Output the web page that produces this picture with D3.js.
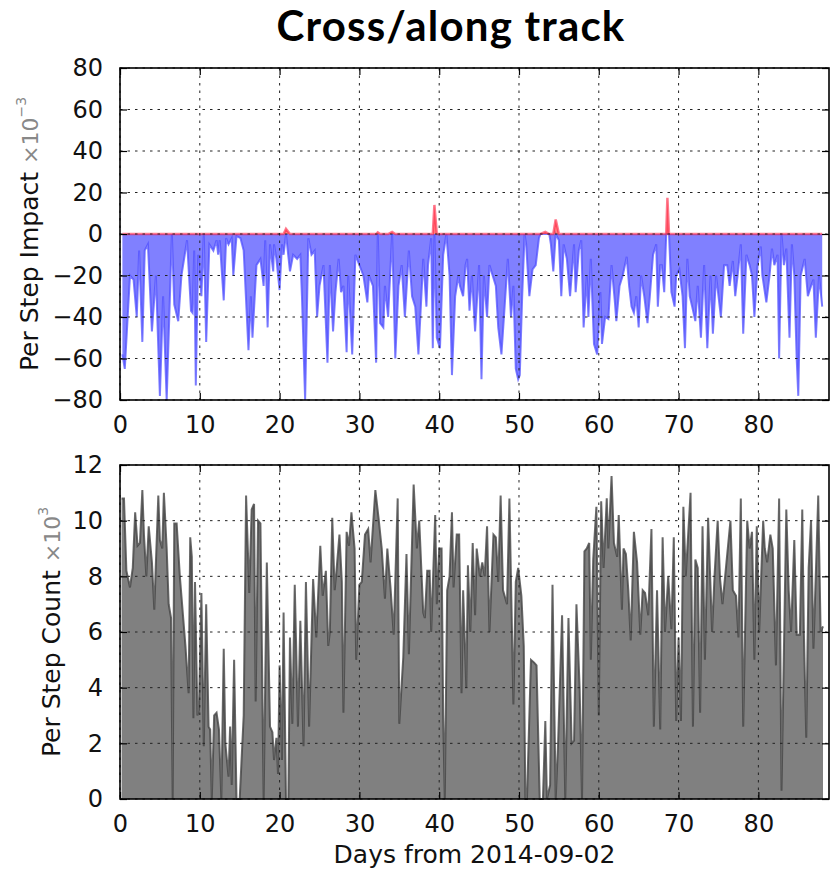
<!DOCTYPE html>
<html>
<head>
<meta charset="utf-8">
<script src="https://cdn.jsdelivr.net/npm/d3@7"></script>
<style>
  body { margin: 0; background: #fff; }
  text { font-family: "DejaVu Sans", sans-serif; }
</style>
</head>
<body>
<div id="chart"></div>
<script>
// Data
var impactDays = [0.3, 0.6, 1.25, 1.7, 2.1, 2.4, 2.8, 3.1, 3.5, 4.0, 4.5, 5.0, 5.4, 5.85, 6.5, 6.8, 7.3, 7.7, 8.4, 8.9,
  9.1, 9.3, 9.5, 9.8, 10.2, 10.5, 10.8, 11.2, 11.7, 12.1, 12.3, 12.5, 13.0, 13.3, 13.6, 14.0, 14.2, 14.6, 15.1, 15.5,
  16.1, 16.4, 16.6, 17.1, 17.6, 18.0, 18.2, 18.5, 18.8, 19.2, 19.3, 19.6, 20.0, 20.3, 20.5, 20.8, 21.3, 21.7, 22.2, 22.6,
  22.8, 23.2, 23.6, 24.0, 24.4, 24.7, 25.0, 25.5, 26.0, 26.3, 26.7, 27.0, 27.4, 27.7, 28.0, 28.4, 28.6, 29.1, 29.5, 30.0,
  30.5, 31.0, 31.2, 31.7, 32.1, 32.3, 32.6, 33.0, 33.2, 33.6, 34.1, 34.5, 34.9, 35.3, 35.7, 36.2, 36.6, 37.0, 37.4, 38.0,
  38.4, 38.6, 39.0, 39.2, 39.4, 39.7, 40.1, 40.5, 40.9, 41.3, 41.6, 42.0, 42.4, 42.6, 43.0, 43.3, 43.5, 43.8, 44.1, 44.5,
  45.0, 45.3, 45.6, 46.0, 46.3, 46.7, 47.1, 47.4, 47.8, 48.2, 48.6, 49.0, 49.3, 49.6, 49.9, 50.1, 50.4, 50.7, 50.9, 51.1,
  51.3, 51.7, 52.1, 52.5, 52.7, 53.3, 53.8, 54.0, 54.3, 54.6, 55.0, 55.3, 55.6, 56.0, 56.4, 56.9, 57.1, 57.5, 57.8, 58.1,
  58.5, 58.7, 59.0, 59.4, 59.8, 60.2, 60.4, 60.8, 61.2, 61.6, 62.0, 62.2, 62.6, 63.0, 63.5, 63.8, 64.1, 64.4, 64.7, 65.0,
  65.3, 65.7, 66.1, 66.4, 66.8, 67.2, 67.4, 67.7, 67.9, 68.2, 68.45, 68.6, 68.8, 69.1, 69.5, 69.7, 70.1, 70.5, 70.8, 71.1,
  71.4, 71.7, 72.1, 72.4, 72.8, 73.2, 73.6, 74.0, 74.3, 74.7, 75.0, 75.3, 75.7, 76.1, 76.4, 76.8, 77.1, 77.4, 77.8, 78.1,
  78.5, 78.9, 79.2, 79.5, 79.9, 80.3, 80.5, 81.0, 81.4, 81.7, 82.0, 82.4, 82.6, 82.9, 83.2, 83.5, 83.9, 84.2, 84.5, 84.8,
  85.0, 85.3, 85.8, 86.2, 86.6, 86.9, 87.2, 87.6, 88.0];
var impactValues = [-58, -65, -20, -22, -40, -8, -52, -8, -5, -47, -20, -78, -30, -80, 0, -34, -42, -20, -3, -37,
  -38, -8, -73, -10, -30, 0, -52, -5, -8, -3, -10, -3, -32, -2, -5, -2, -20, -1, -2, -8,
  -56, -30, -50, -15, -12, -25, -3, -45, -5, -18, -5, -12, -27, -5, -10, 2.5, -18, -10, -12, -10,
  -30, -80, -2, -10, -8, -40, -25, -15, -62, -15, -47, -28, -12, -28, -25, -57, -20, -58, -10, -15,
  -20, -33, -20, -25, -62, 0.8, -43, -45, -25, -40, 1, -60, -25, -15, -40, -8, -30, -35, -58, -12,
  -35, -15, -2, -55, 14, -50, -55, -10, 0, -20, -68, -30, -20, -25, -30, -15, -12, -37, -20, -47,
  -15, -70, -20, -40, -15, -20, -25, -45, -58, -35, -12, -40, -25, -65, -70, -68, -30, 0, -5, -18,
  -30, -17, -15, -2, 0, 1, 0, -5, -18, 7, -3, -30, -5, -12, -30, -5, -28, -8, -3, -45,
  -20, -40, -12, -53, -58, -28, -53, -40, -41, -15, -32, -42, -25, -20, -11, -25, -35, -38, -30, -45,
  -20, -30, -43, -30, -10, -5, -35, -15, -15, -28, 0, 17.5, 0, -28, -35, -20, -17, -30, -55, -12,
  -30, -35, -42, -25, -50, -15, -55, -20, -48, -20, -30, -40, -15, -15, -25, -13, -30, -20, -5, -48,
  -10, -15, -20, -40, -15, -6, -20, -33, -20, -7, -15, -10, -60, 0, -15, -7, -50, -5, -20, -60,
  -78, -20, -12, -30, -25, -22, -50, -20, -35];

var countDays = [0.2, 0.5, 0.8, 1.25, 1.6, 1.9, 2.2, 2.5, 2.8, 3.0, 3.3, 3.6, 4.0, 4.3, 4.5, 4.8, 5.0, 5.3, 5.5, 5.85,
  6.1, 6.4, 6.6, 6.8, 7.1, 7.5, 8.2, 8.6, 8.8, 9.0, 9.2, 9.4, 9.7, 9.9, 10.2, 10.5, 10.8, 11.1, 11.3, 11.5,
  11.8, 12.1, 12.4, 12.7, 13.0, 13.2, 13.6, 13.8, 14.0, 14.3, 14.6, 15.0, 15.5, 15.8, 16.2, 16.5, 16.8, 17.0, 17.3, 17.6,
  18.0, 18.4, 18.8, 19.1, 19.3, 19.6, 19.8, 20.0, 20.3, 20.5, 20.8, 21.1, 21.3, 21.6, 21.9, 22.3, 22.6, 23.0, 23.3, 23.7,
  24.2, 24.6, 25.1, 25.4, 25.8, 26.1, 26.3, 26.6, 26.9, 27.1, 27.5, 27.8, 28.0, 28.4, 28.7, 29.0, 29.4, 29.6, 30.0, 30.3,
  30.7, 31.1, 31.4, 32.0, 32.4, 32.8, 33.2, 33.5, 33.9, 34.3, 34.8, 35.0, 35.5, 35.9, 36.2, 36.8, 37.2, 37.5, 37.8, 38.0,
  38.2, 38.5, 38.8, 39.0, 39.5, 39.7, 40.0, 40.3, 40.5, 40.7, 41.0, 41.3, 41.6, 41.8, 42.2, 42.5, 42.8, 43.0, 43.4, 43.6,
  43.9, 44.2, 44.5, 44.7, 45.1, 45.4, 45.7, 46.0, 46.3, 46.8, 47.1, 47.4, 47.7, 48.0, 48.5, 48.8, 49.3, 49.6, 49.9, 50.3,
  50.6, 50.8, 51.0, 51.5, 51.9, 52.2, 52.6, 53.0, 53.3, 53.5, 53.9, 54.2, 54.6, 54.9, 55.4, 55.8, 56.2, 56.6, 56.9, 57.2,
  57.6, 57.9, 58.2, 58.5, 58.8, 59.0, 59.3, 59.7, 60.0, 60.3, 60.6, 61.0, 61.2, 61.6, 61.9, 62.3, 62.5, 62.9, 63.1, 63.4,
  63.7, 64.0, 64.4, 64.8, 65.2, 65.5, 65.8, 66.2, 66.6, 66.9, 67.3, 67.7, 68.0, 68.3, 68.7, 69.1, 69.4, 69.7, 70.0, 70.3,
  70.6, 70.9, 71.5, 71.8, 72.1, 72.4, 72.7, 73.0, 73.3, 73.7, 74.2, 74.5, 74.9, 75.2, 75.5, 76.0, 76.5, 76.8, 77.2, 77.5,
  77.8, 78.1, 78.6, 78.9, 79.2, 79.5, 79.8, 80.1, 80.6, 80.8, 81.1, 81.5, 81.8, 82.2, 82.6, 82.9, 83.5, 83.8, 84.1, 84.5,
  84.8, 85.2, 85.5, 85.7, 86.0, 86.3, 86.6, 86.9, 87.3, 87.5, 87.8, 88.1];
var countValues = [10.8, 10.8, 8.2, 7.6, 8.3, 10.3, 9.1, 9.2, 11.1, 9.5, 8.0, 9.8, 8.5, 6.8, 8.5, 10.9, 9.3, 9.0, 11.0, 9.0,
  7.0, 6.5, 0, 9.9, 9.9, 8.0, 5.5, 3.8, 9.4, 8.7, 2.9, 7.8, 3.0, 3.2, 7.4, 1.9, 7.0, 2.6, 2.5, 0,
  3.0, 3.1, 2.5, 0, 5.4, 2.0, 0.8, 2.6, 0.5, 5.0, 0, 0, 3.0, 10.9, 7.4, 10.4, 10.6, 3.5, 10.0, 9.9,
  0, 8.5, 2.6, 2.4, 1.4, 2.2, 0.9, 4.8, 1.4, 6.7, 0, 0, 5.8, 2.7, 7.7, 2.6, 6.4, 1.9, 7.8, 2.6,
  7.9, 5.8, 9.1, 7.3, 8.2, 5.5, 6.0, 10.1, 7.5, 8.1, 9.5, 7.8, 3.1, 9.6, 9.1, 10.3, 9.0, 5.0, 7.7, 7.8,
  9.5, 9.7, 8.5, 11.1, 10.1, 9.0, 7.2, 9.0, 7.6, 5.9, 10.8, 2.7, 5.1, 8.8, 5.2, 11.3, 9.0, 10.0, 8.0, 6.7,
  6.5, 8.2, 8.2, 6.0, 10.2, 7.0, 9.0, 9.0, 3.0, 0, 7.5, 8.0, 10.3, 7.6, 9.5, 9.5, 3.8, 7.5, 4.0, 8.4,
  6.0, 9.2, 6.6, 9.0, 8.0, 8.5, 8.0, 9.8, 6.0, 9.5, 9.4, 7.8, 10.9, 7.5, 7.0, 10.8, 3.4, 7.8, 8.3, 7.3,
  5.5, 0, 0, 5.0, 4.9, 4.8, 0, 0, 2.8, 0, 0.5, 7.7, 0, 2.0, 6.6, 0, 6.5, 2.0, 2.1, 7.0,
  4.0, 0, 8.9, 9.0, 9.2, 5.0, 8.6, 10.5, 3.0, 10.7, 8.3, 10.8, 9.0, 11.6, 9.2, 8.7, 10.2, 6.8, 9.0, 8.8,
  7.5, 5.7, 9.6, 8.5, 5.9, 7.5, 7.4, 6.6, 9.7, 2.6, 7.5, 2.5, 9.4, 6.0, 8.0, 6.1, 9.4, 2.8, 5.8, 2.8,
  10.5, 8.0, 11.0, 2.6, 8.6, 8.3, 3.1, 9.8, 5.0, 10.1, 6.0, 8.0, 10.0, 7.9, 7.0, 8.5, 10.0, 7.5, 7.3, 5.8,
  10.8, 2.6, 10.0, 9.0, 9.6, 5.0, 9.8, 6.0, 10.0, 9.0, 8.5, 9.5, 9.0, 4.8, 10.8, 0.3, 10.4, 7.5, 6.0, 9.3,
  5.9, 5.9, 10.4, 6.0, 2.2, 8.3, 10.0, 5.4, 9.0, 10.9, 6.0, 6.2];

var dayTicks = [0, 10, 20, 30, 40, 50, 60, 70, 80];
var impactTicks = [-80, -60, -40, -20, 0, 20, 40, 60, 80];
var countTicks = [0, 2, 4, 6, 8, 10, 12];

var width = 832, height = 872;
var plotLeft = 120, plotRight = 829;

var svg = d3
  .select("#chart")
  .append("svg")
  .attr("width", width)
  .attr("height", height);

// Title
svg
  .append("text")
  .attr("x", 451)
  .attr("y", 41)
  .attr("text-anchor", "middle")
  .style("font-family", "Lato, 'Open Sans', sans-serif")
  .style("font-weight", "bold")
  .style("font-size", "42px")
  .style("letter-spacing", "1.2px")
  .text("Cross/along track");

var x = d3.scaleLinear().domain([0, 88.85]).range([plotLeft, plotRight]);

// draws frame, ticks pointing inward on all four sides, dotted grid
function drawFrame(g, y, yTicks, top, bottom) {
  var grid = g.append("g");
  dayTicks.forEach(function (t) {
    grid.append("line")
      .attr("x1", x(t)).attr("x2", x(t))
      .attr("y1", top).attr("y2", bottom)
      .attr("stroke", "#222").attr("stroke-width", 1)
      .attr("stroke-dasharray", "2.5,5");
  });
  yTicks.forEach(function (t) {
    grid.append("line")
      .attr("x1", plotLeft).attr("x2", plotRight)
      .attr("y1", y(t)).attr("y2", y(t))
      .attr("stroke", "#222").attr("stroke-width", 1)
      .attr("stroke-dasharray", "2.5,5");
  });

  // axes: inward ticks
  g.append("g")
    .attr("transform", "translate(0," + bottom + ")")
    .call(d3.axisBottom(x).tickValues(dayTicks).tickSize(-7).tickPadding(16).tickFormat(d3.format("d")));
  g.append("g")
    .attr("transform", "translate(0," + top + ")")
    .call(d3.axisTop(x).tickValues(dayTicks).tickSize(-7).tickFormat(""));
  g.append("g")
    .attr("transform", "translate(" + plotLeft + ",0)")
    .call(d3.axisLeft(y).tickValues(yTicks).tickSize(-7).tickPadding(17)
      .tickFormat(function (d) { return d < 0 ? "\u2212" + Math.abs(d) : d; }));
  g.append("g")
    .attr("transform", "translate(" + plotRight + ",0)")
    .call(d3.axisRight(y).tickValues(yTicks).tickSize(-7).tickFormat(""));

  g.selectAll(".domain").remove();
  g.selectAll(".tick line").attr("stroke", "#000").attr("stroke-width", 1.2);
  g.selectAll(".tick text")
    .style("font-family", "'DejaVu Sans', sans-serif")
    .style("font-size", "24px")
    .attr("fill", "#111");

  g.append("rect")
    .attr("x", plotLeft).attr("y", top)
    .attr("width", plotRight - plotLeft).attr("height", bottom - top)
    .attr("fill", "none").attr("stroke", "#000").attr("stroke-width", 1.6);
}

// ---- Top: per step impact ----
var topY0 = 68, topY1 = 400;
var yImpact = d3.scaleLinear().domain([-80, 80]).range([topY1, topY0]);
var impact = impactDays.map(function (d, i) { return { day: d, v: impactValues[i] }; });

var gTop = svg.append("g");

var negArea = d3.area()
  .x(function (d) { return x(d.day); })
  .y0(yImpact(0))
  .y1(function (d) { return yImpact(Math.min(d.v, 0)); });
var negLine = d3.line()
  .x(function (d) { return x(d.day); })
  .y(function (d) { return yImpact(Math.min(d.v, 0)); });
var posArea = d3.area()
  .x(function (d) { return x(d.day); })
  .y0(yImpact(0))
  .y1(function (d) { return yImpact(Math.max(d.v, 0)); });
var posLine = d3.line()
  .x(function (d) { return x(d.day); })
  .y(function (d) { return yImpact(Math.max(d.v, 0)); });

gTop.append("path").datum(impact).attr("d", negArea).attr("fill", "#8080ff");
gTop.append("path").datum(impact).attr("d", negLine)
  .attr("fill", "none").attr("stroke", "#5050ff").attr("stroke-opacity", 0.75).attr("stroke-width", 2);
gTop.append("path").datum(impact).attr("d", posArea).attr("fill", "#ff5050").attr("fill-opacity", 0.7);
gTop.append("path").datum(impact).attr("d", posLine)
  .attr("fill", "none").attr("stroke", "#ff2040").attr("stroke-opacity", 0.6).attr("stroke-width", 2.5);

drawFrame(gTop, yImpact, impactTicks, topY0, topY1);

var labTop = svg.append("text")
  .attr("transform", "translate(38,234) rotate(-90)")
  .attr("text-anchor", "middle")
  .style("font-size", "25px")
  .attr("fill", "#111");
labTop.append("tspan").text("Per Step Impact ");
labTop.append("tspan").attr("fill", "#888").style("font-size", "22px").text(" \u00d710");
labTop.append("tspan").attr("fill", "#888").style("font-size", "14px").attr("dy", -12).text("\u22123");

// ---- Bottom: per step count ----
var botY0 = 465, botY1 = 799;
var yCount = d3.scaleLinear().domain([0, 12]).range([botY1, botY0]);
var counts = countDays.map(function (d, i) { return { day: d, v: countValues[i] }; });

var gBot = svg.append("g");

var countArea = d3.area()
  .x(function (d) { return x(d.day); })
  .y0(yCount(0))
  .y1(function (d) { return yCount(d.v); });
var countLine = d3.line()
  .x(function (d) { return x(d.day); })
  .y(function (d) { return yCount(d.v); });

gBot.append("path").datum(counts).attr("d", countArea).attr("fill", "#808080");
gBot.append("path").datum(counts).attr("d", countLine)
  .attr("fill", "none").attr("stroke", "#444").attr("stroke-opacity", 0.8).attr("stroke-width", 2);

drawFrame(gBot, yCount, countTicks, botY0, botY1);

var labBot = svg.append("text")
  .attr("transform", "translate(60,632) rotate(-90)")
  .attr("text-anchor", "middle")
  .style("font-size", "25px")
  .attr("fill", "#111");
labBot.append("tspan").text("Per Step Count ");
labBot.append("tspan").attr("fill", "#888").style("font-size", "22px").text(" \u00d710");
labBot.append("tspan").attr("fill", "#888").style("font-size", "14px").attr("dy", -12).text("3");

svg.append("text")
  .attr("x", (plotLeft + plotRight) / 2)
  .attr("y", 863)
  .attr("text-anchor", "middle")
  .style("font-size", "25px")
  .attr("fill", "#111")
  .text("Days from 2014-09-02");
</script>
</body>
</html>
